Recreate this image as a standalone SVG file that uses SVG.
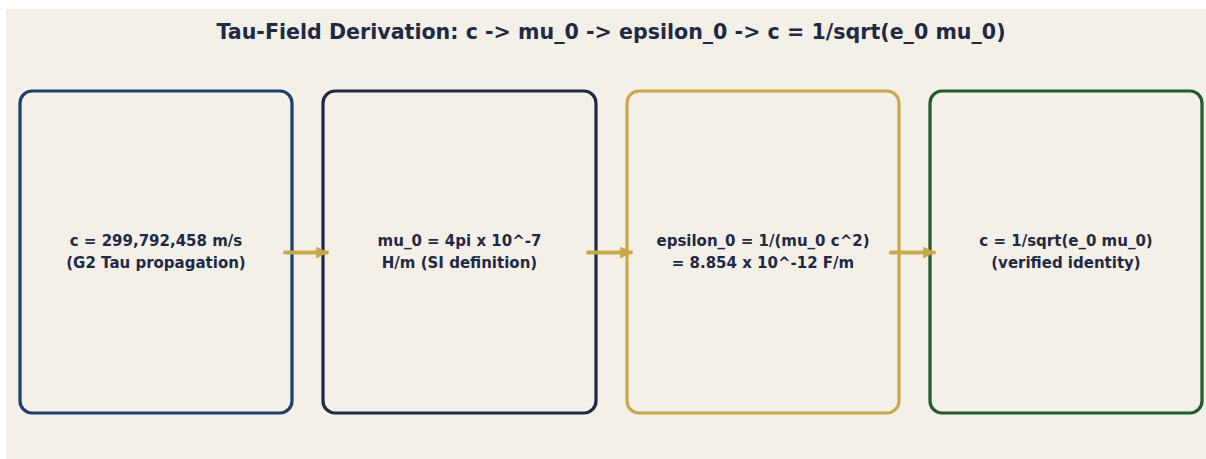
<svg xmlns="http://www.w3.org/2000/svg" width="1206" height="459" viewBox="0 0 1206 459">
<defs>
<style>
.bg{fill:#f4f0e8}
.box{fill:#f4f0e8;stroke-width:3.2}
.t{font-family:"DejaVu Sans",sans-serif;font-weight:bold;fill:#1e2a45;text-anchor:middle}
.lbl{font-size:15px}
.title{font-size:20.6px}
.arr{stroke:#c9a84c;stroke-width:4;fill:none;stroke-linecap:round}
</style>
<marker id="ah" viewBox="0 0 10 10" refX="9" refY="5" markerWidth="3" markerHeight="3" orient="auto" markerUnits="strokeWidth">
<path d="M0,0 L10,5 L0,10 Z" fill="#c9a84c"/>
</marker>
</defs>
<rect x="0" y="0" width="1206" height="459" fill="#ffffff"/>
<rect class="bg" x="6" y="9" width="1200" height="450"/>
<text class="t title" x="611" y="38.5">Tau-Field Derivation: c -&gt; mu_0 -&gt; epsilon_0 -&gt; c = 1/sqrt(e_0 mu_0)</text>
<g id="node1">
<rect class="box" x="20" y="91" width="272" height="322" rx="12" stroke="#1f3f6e"/>
<text class="t lbl" x="156" y="246">c = 299,792,458 m/s</text>
<text class="t lbl" x="156" y="268">(G2 Tau propagation)</text>
</g>
<g id="node2">
<rect class="box" x="323" y="91" width="273" height="322" rx="12" stroke="#1e2a45"/>
<text class="t lbl" x="459.5" y="246">mu_0 = 4pi x 10^-7</text>
<text class="t lbl" x="459.5" y="268">H/m (SI definition)</text>
</g>
<g id="node3">
<rect class="box" x="627" y="91" width="272" height="322" rx="12" stroke="#c9a84c"/>
<text class="t lbl" x="763" y="246">epsilon_0 = 1/(mu_0 c^2)</text>
<text class="t lbl" x="763" y="268">= 8.854 x 10^-12 F/m</text>
</g>
<g id="node4">
<rect class="box" x="930" y="91" width="272" height="322" rx="12" stroke="#1f5c2e"/>
<text class="t lbl" x="1066" y="246">c = 1/sqrt(e_0 mu_0)</text>
<text class="t lbl" x="1066" y="268">(verified identity)</text>
</g>
<g id="connectors">
<path class="arr" d="M285,252.5 L327,252.5" marker-end="url(#ah)"/>
<path class="arr" d="M588,252.5 L631,252.5" marker-end="url(#ah)"/>
<path class="arr" d="M891,252.5 L934,252.5" marker-end="url(#ah)"/>
</g>
</svg>
